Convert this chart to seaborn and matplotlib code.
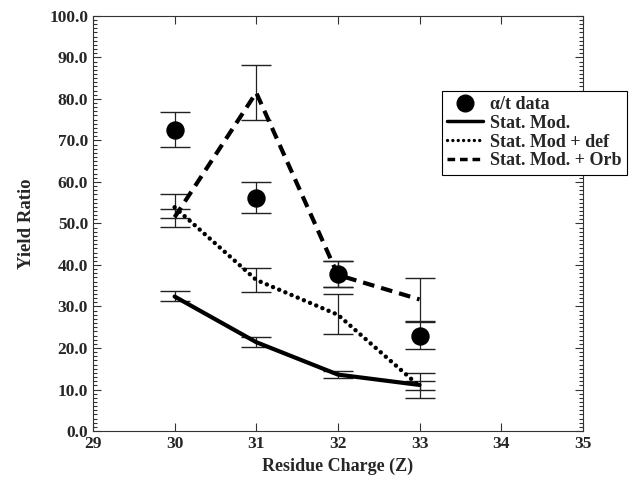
import numpy as np
import pandas as pd
import matplotlib
matplotlib.use("Agg")
import matplotlib.pyplot as plt
from matplotlib.ticker import MultipleLocator, FormatStrFormatter
from matplotlib.lines import Line2D
import seaborn as sns

# ---- data ----
z = [30, 31, 32, 33]
data_y = [72.6, 56.2, 37.8, 23.0]
data_lo = [68.3, 52.6, 34.6, 19.7]
data_hi = [76.9, 59.9, 41.0, 26.3]

stat_y = [32.4, 21.4, 13.6, 11.1]
stat_lo = [31.2, 20.3, 12.7, 10.0]
stat_hi = [33.8, 22.6, 14.5, 12.1]

def_y = [53.9, 36.4, 28.0, 10.8]
def_lo = [51.2, 33.6, 23.4, 7.9]
def_hi = [57.0, 39.2, 32.9, 13.9]

orb_y = [51.5, 81.5, 37.6, 31.7]
orb_lo = [49.1, 74.8, 34.6, 26.6]
orb_hi = [53.5, 88.2, 41.0, 36.8]

labels = ["\u03b1/t data", "Stat. Mod.", "Stat. Mod + def", "Stat. Mod. + Orb"]

sns.set_style("ticks")
plt.rcParams['font.family'] = ['Liberation Serif', 'DejaVu Serif']
plt.rcParams['font.weight'] = 'bold'

fig = plt.figure(figsize=(6.39, 4.8), dpi=100)
ax = fig.add_axes([0.1455, 0.102, 0.7665, 0.865])

def errs(y, lo, hi):
    y = np.array(y); return [y - np.array(lo), np.array(hi) - y]

for (yy, lo, hi) in [(stat_y, stat_lo, stat_hi), (def_y, def_lo, def_hi),
                     (orb_y, orb_lo, orb_hi), (data_y, data_lo, data_hi)]:
    ax.errorbar(z, yy, yerr=errs(yy, lo, hi), fmt='none', ecolor='#222222',
                elinewidth=0.9, capsize=11, capthick=1.0, zorder=2)

df = pd.DataFrame({"z": z, "stat": stat_y, "def": def_y, "orb": orb_y, "data": data_y})
sns.lineplot(data=df, x="z", y="stat", ax=ax, color='black', lw=3.0, zorder=3)
sns.lineplot(data=df, x="z", y="def", ax=ax, color='black', lw=3.2, zorder=3,
             linestyle=(0, (0.01, 1.5)))
ax.lines[-1].set_dash_capstyle('round')
sns.lineplot(data=df, x="z", y="orb", ax=ax, color='black', lw=3.0, zorder=3,
             linestyle=(0, (2.8, 1.7)))
sns.scatterplot(data=df, x="z", y="data", ax=ax, color='black', s=150,
                edgecolor='black', zorder=4)

ax.set_xlim(29, 35)
ax.set_ylim(0, 100)
ax.xaxis.set_major_locator(MultipleLocator(1))
ax.yaxis.set_major_locator(MultipleLocator(10))
ax.yaxis.set_minor_locator(MultipleLocator(1))
ax.yaxis.set_major_formatter(FormatStrFormatter('%.1f'))
ax.tick_params(axis='both', which='both', direction='in', top=True, right=True,
               labelsize=12.5, width=0.8, color='#333333')
ax.tick_params(which='major', length=6)
ax.tick_params(which='minor', length=3)
for lab in ax.get_xticklabels() + ax.get_yticklabels():
    lab.set_fontweight('bold')
for s in ax.spines.values():
    s.set_linewidth(0.8)
    s.set_color('#333333')

ax.set_xlabel("Residue Charge (Z)", fontsize=13, fontweight='bold')
ax.set_ylabel("Yield Ratio", fontsize=13.5, fontweight='bold', labelpad=10)

dot_handle = Line2D([], [], color='black', lw=2.4, linestyle=(0, (0.01, 1.6)))
dot_handle.set_dash_capstyle('round')
handles = [
    Line2D([], [], color='black', marker='o', linestyle='none', markersize=12),
    Line2D([], [], color='black', lw=2.5),
    dot_handle,
    Line2D([], [], color='black', lw=2.5, linestyle=(0, (2.2, 1.4))),
]
leg = ax.legend(handles, labels, loc='upper left', bbox_to_anchor=(0.712, 0.82),
                frameon=True, fancybox=False, framealpha=1, edgecolor='black',
                prop={'family': 'Liberation Serif', 'weight': 'bold', 'size': 13},
                handlelength=2.0, handletextpad=0.4, labelspacing=0.1,
                borderpad=0.3, borderaxespad=0, markerfirst=True)
leg.get_frame().set_linewidth(0.8)
leg.set_zorder(10)

fig.savefig("out.png", dpi=100)
